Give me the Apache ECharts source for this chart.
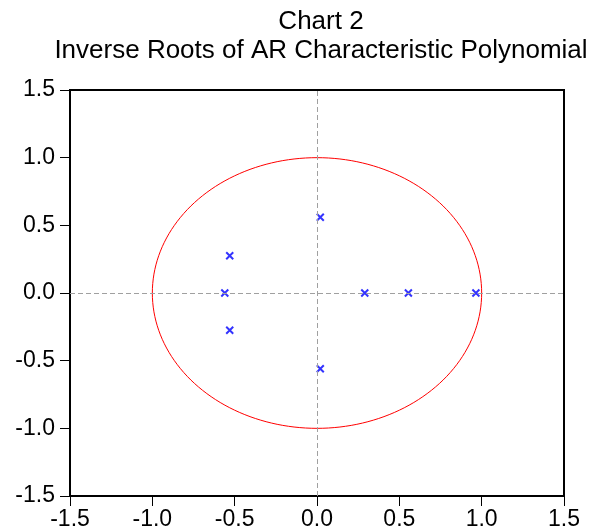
<!DOCTYPE html>
<html>
<head>
<meta charset="utf-8">
<script src="https://cdn.jsdelivr.net/npm/echarts@6/dist/echarts.min.js"></script>
<style>
  html, body { margin: 0; padding: 0; background: #fff; }
  #chart { width: 592px; height: 531px; }
</style>
</head>
<body>
<div id="chart"></div>
<script>
// Inverse roots of the AR characteristic polynomial (real, imaginary)
const rootsReal = [0.965, 0.555, 0.29, 0.02, 0.02, -0.53, -0.53, -0.56];
const rootsImag = [0, 0, 0, 0.56, -0.56, 0.275, -0.275, 0];
// Axis ticks
const axisTicks = [-1.5, -1.0, -0.5, 0.0, 0.5, 1.0, 1.5];
// Unit circle: centre and radius
const unitCircle = [[0, 0, 1]];

const FONT = '"Liberation Sans", Arial, sans-serif';
const points = rootsReal.map((x, i) => [x, rootsImag[i]]);

const axisCommon = {
  type: 'value',
  min: axisTicks[0],
  max: axisTicks[axisTicks.length - 1],
  interval: 0.5,
  axisLine: { show: true, onZero: false, lineStyle: { color: '#000', width: 2 } },
  axisTick: { show: true, length: 10, lineStyle: { color: '#000', width: 1 } },
  axisLabel: {
    color: '#000', fontFamily: FONT, fontSize: 23,
    formatter: v => v.toFixed(1)
  },
  splitLine: { show: false }
};

const chart = echarts.init(document.getElementById('chart'), null, { renderer: 'canvas' });
chart.setOption({
  backgroundColor: '#fff',
  animation: false,
  title: {
    text: 'Chart 2\nInverse Roots of AR Characteristic Polynomial',
    left: 316,
    top: 2,
    textAlign: 'center',
    textStyle: { color: '#000', fontFamily: FONT, fontSize: 26, fontWeight: 'normal', lineHeight: 29 }
  },
  grid: {
    left: 70, right: 28, top: 90, bottom: 34,
    show: true, borderColor: '#000', borderWidth: 2, backgroundColor: 'transparent'
  },
  xAxis: Object.assign({}, axisCommon, {
    position: 'bottom',
    axisLabel: Object.assign({}, axisCommon.axisLabel, { margin: 12 })
  }),
  yAxis: Object.assign({}, axisCommon, {
    position: 'left',
    axisLabel: Object.assign({}, axisCommon.axisLabel, { margin: 15 })
  }),
  series: [
    {
      type: 'custom',
      data: unitCircle,
      silent: true,
      z: 2,
      renderItem: (params, api) => {
        const cx = api.value(0), cy = api.value(1), r = api.value(2);
        const pts = [];
        for (let k = 0; k <= 360; k += 2) {
          const t = k * Math.PI / 180;
          pts.push(api.coord([cx + r * Math.cos(t), cy + r * Math.sin(t)]));
        }
        return {
          type: 'polyline',
          shape: { points: pts },
          style: { fill: 'none', stroke: '#ff0000', lineWidth: 1 }
        };
      }
    },
    {
      type: 'scatter',
      data: points,
      z: 3,
      symbol: 'path://M0,0L10,10M10,0L0,10',
      symbolSize: 7,
      itemStyle: { color: 'transparent', borderColor: '#0000ff', borderWidth: 2 },
      markLine: {
        silent: true,
        symbol: 'none',
        label: { show: false },
        lineStyle: { color: '#a0a0a0', type: [5, 3], width: 1 },
        data: [{ xAxis: 0 }, { yAxis: 0 }]
      }
    }
  ]
});
</script>
</body>
</html>
